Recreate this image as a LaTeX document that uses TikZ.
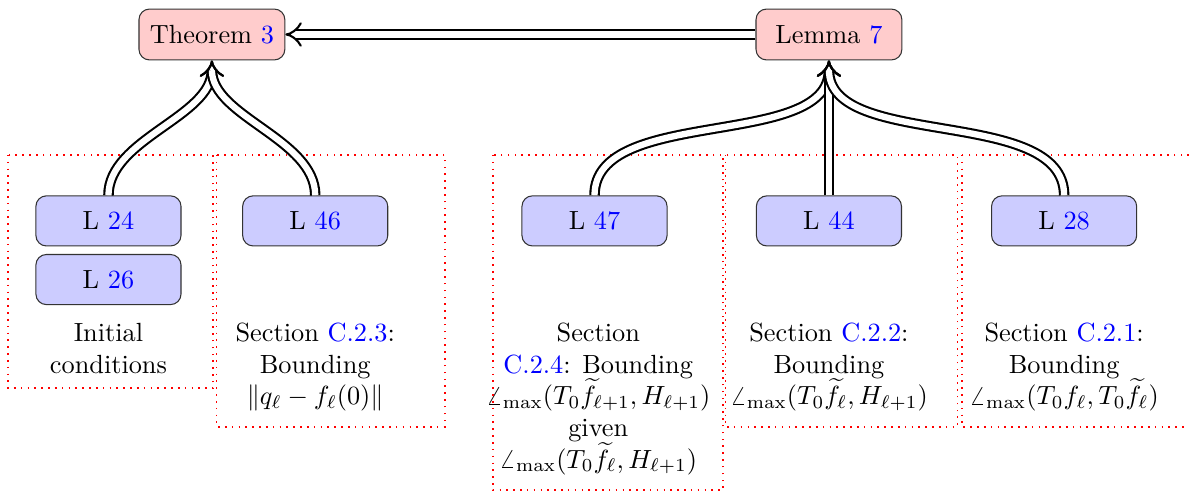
\documentclass[tikz,border=0pt]{standalone}
\usepackage{amsmath}
\usetikzlibrary{arrows.meta, positioning}
\definecolor{thmfill}{HTML}{FFCCCC}
\definecolor{lemfill}{HTML}{CCCCFF}
\newcommand{\refnum}[1]{\textcolor{blue}{#1}}
\tikzset{
  thm/.style={rectangle, rounded corners=4pt, draw=black!80, fill=thmfill,
              minimum width=19.5mm, minimum height=6.8mm},
  lem/.style={rectangle, rounded corners=4pt, draw=black!80, fill=lemfill,
              minimum width=19.4mm, minimum height=6.7mm},
  dep/.style={draw, thick, double, double distance=2.4pt, -{Implies[scale=1.6]}},
  grp/.style={draw=red, dotted, semithick},
  txt/.style={align=center, anchor=north, inner sep=0pt},
}
\begin{document}
\begin{tikzpicture}[node distance=1mm and 8mm]
    \path[use as bounding box, clip] (0,0) rectangle (15.896,-6.564);
    % lemma row
    \node[lem] (l24) at (1.45,-2.953) {L \refnum{24}};
    \node[lem, below=1mm of l24] (l26) {L \refnum{26}};
    \node[lem, right=8.1mm of l24] (l46) {L \refnum{46}};
    \node[lem, right=17.8mm of l46] (l47) {L \refnum{47}};
    \node[lem, right=11.8mm of l47] (l44) {L \refnum{44}};
    \node[lem, right=11.9mm of l44] (l28) {L \refnum{28}};
    % main results
    \node[thm] (thm3) at (2.833,-0.461) {Theorem \refnum{3}};
    \node[thm] (lem7) at (l44 |- thm3) {Lemma \refnum{7}};
    % what each group does
    \coordinate (row) at (0,-4.315);
    \node[txt] (t24) at (l26 |- row) {Initial\\conditions};
    \node[txt] (t46) at (l46 |- row) {Section \refnum{C.2.3}:\\Bounding\\$\|q_\ell - f_\ell(0)\|$};
    \node[txt, xshift=0.05cm] (t47) at (l47 |- row) {Section\\\refnum{C.2.4}: Bounding\\$\angle_{\max}(T_0\widetilde{f}_{\ell+1}, H_{\ell+1})$\\given\\$\angle_{\max}(T_0\widetilde{f}_\ell, H_{\ell+1})$};
    \node[txt] (t44) at (l44 |- row) {Section \refnum{C.2.2}:\\Bounding\\$\angle_{\max}(T_0\widetilde{f}_\ell, H_{\ell+1})$};
    \node[txt] (t28) at (l28 |- row) {Section \refnum{C.2.1}:\\Bounding\\$\angle_{\max}(T_0 f_\ell, T_0\widetilde{f}_\ell)$};
    % groups
    \draw[grp] (0.107,-2.071) rectangle (2.851,-5.19);
    \draw[grp] (2.896,-2.071) rectangle (5.947,-5.706);
    \draw[grp] (6.588,-2.071) rectangle (9.667,-6.55);
    \draw[grp] (9.70,-2.071) rectangle (12.80,-5.706);
    \draw[grp] (12.86,-2.071) rectangle (16.5,-5.706);
    % dependencies
    \draw[dep] (lem7) -- (thm3);
    \draw[dep] (l24) to[out=90, in=-90, looseness=0.85] (thm3);
    \draw[dep] (l46) to[out=90, in=-90, looseness=0.85] (thm3);
    \draw[dep] (l47) to[out=90, in=-90, looseness=0.85] (lem7);
    \draw[dep] (l44) -- (lem7);
    \draw[dep] (l28) to[out=90, in=-90, looseness=0.85] (lem7);
\end{tikzpicture}
\end{document}
